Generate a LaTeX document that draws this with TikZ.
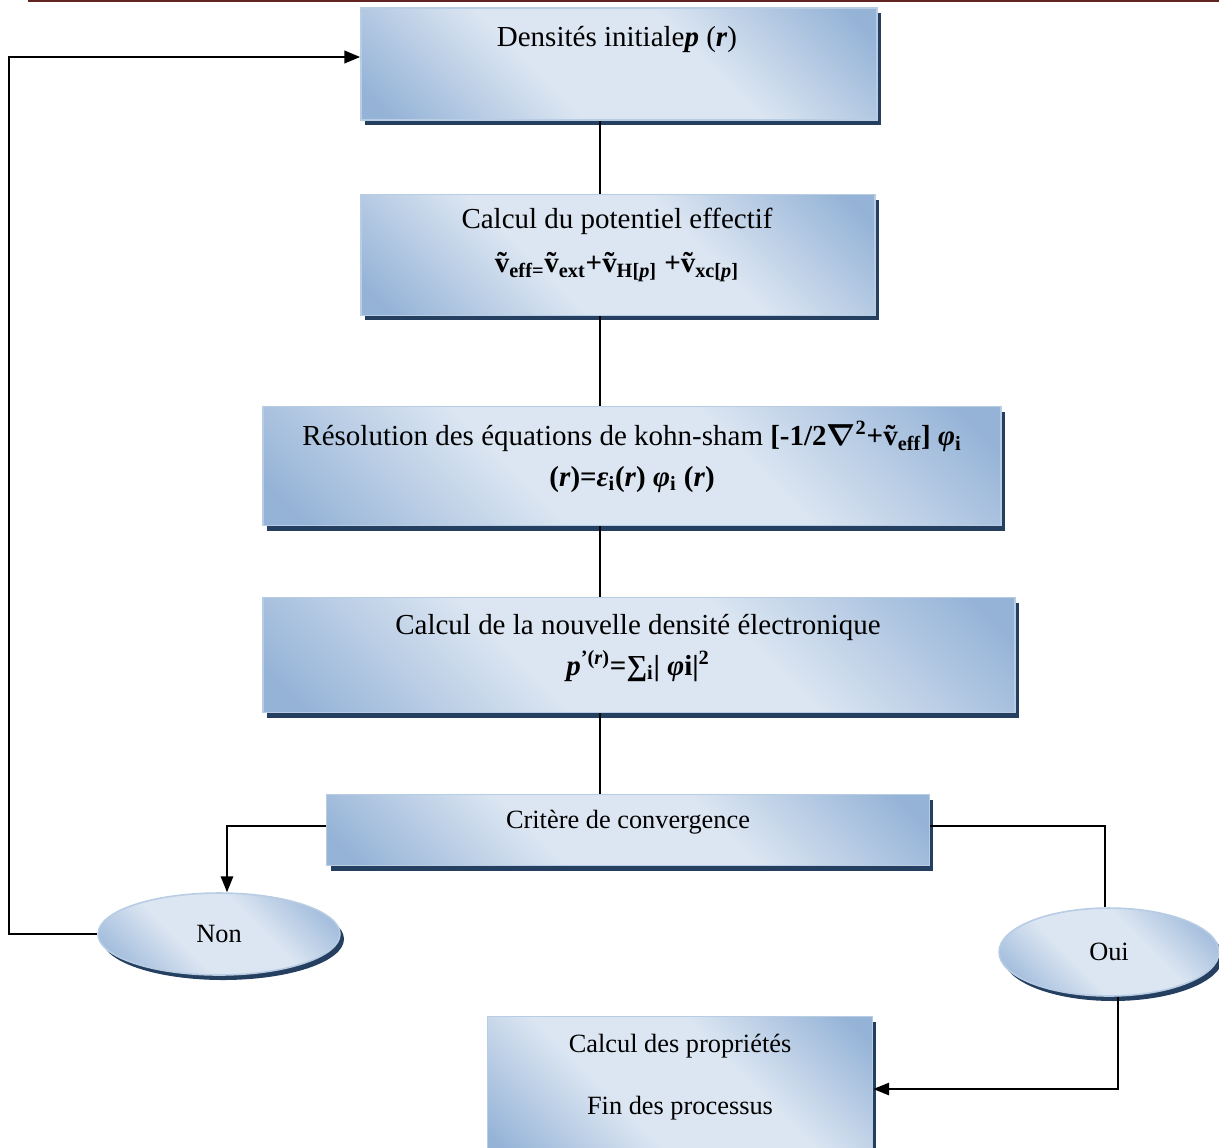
\documentclass[tikz,border=0pt]{standalone}
\usepackage{fontspec}
\setmainfont{Liberation Serif}
\usetikzlibrary{shapes.geometric,shadows,arrows.meta}
\definecolor{bdark}{HTML}{95B3D7}
\definecolor{blight}{HTML}{DCE6F2}
\definecolor{bline}{HTML}{B8CCE4}
\definecolor{bshad}{HTML}{243F60}
\definecolor{hdr}{HTML}{622423}
\pgfdeclarehorizontalshading{boxfill}{100bp}{color(0bp)=(bdark); color(18bp)=(bdark); color(40bp)=(blight); color(60bp)=(blight); color(82bp)=(bdark); color(100bp)=(bdark)}
\begin{document}
\begin{tikzpicture}[x=0.02cm,y=-0.02cm,
  look/.style={draw=bline,line width=0.9pt,shading=boxfill,shading angle=45,
    general shadow={fill=bshad,shadow xshift=0.08cm,shadow yshift=-0.1cm}},
  stepbox/.style={rectangle,look},
  choice/.style={ellipse,look,inner sep=0pt,font=\fontsize{15}{18}\selectfont},
  txt/.style={align=center,font=\fontsize{16.5}{23}\selectfont},
  smalltxt/.style={align=center,font=\fontsize{15}{35}\selectfont},
  link/.style={line width=1pt},
  arr/.style={link,-{Triangle[length=9pt,width=7pt]}}]
\clip (0,0) rectangle (1219,1147);
\draw[hdr,line width=1.2pt] (28,1) -- (1219,1);
\coordinate (spine) at (600,0);
\coordinate (loop) at (9,0);
\node[stepbox,minimum width=10.32cm,minimum height=2.24cm] (init) at (619,64) {};
\node[stepbox,minimum width=10.28cm,minimum height=2.42cm] (pot) at (618,255) {};
\node[stepbox,minimum width=14.76cm,minimum height=2.38cm] (ks) at (632,466) {};
\node[stepbox,minimum width=15.04cm,minimum height=2.30cm] (dens) at (639,655) {};
\node[stepbox,minimum width=12.06cm,minimum height=1.42cm] (crit) at (628,830) {};
\node[stepbox,minimum width=7.70cm,minimum height=2.90cm] (props) at (680,1089) {};
\node[choice,minimum width=4.84cm,minimum height=1.64cm] (non) at (219,934) {Non};
\node[choice,minimum width=4.40cm,minimum height=1.76cm] (oui) at (1109,952) {Oui};
\node[txt] (tinit) at (617,40) {Densités initiale\textbf{\textit{p}} (\textbf{\textit{r}})};
\node[txt,font=\fontsize{16.5}{25}\selectfont] (tpot) at (617,245) {Calcul du potentiel effectif\\
  \textbf{ṽ\textsubscript{eff=}ṽ\textsubscript{ext}+ṽ\textsubscript{H[\textit{p}]} +ṽ\textsubscript{xc[\textit{p}]}}};
\node[txt] (tks) at (632,457) {Résolution des équations de kohn-sham \textbf{[-1/2{\boldmath$\nabla$}\textsuperscript{2}+ṽ\textsubscript{eff}] \textit{φ}\textsubscript{i}}\\
  \textbf{(\textit{r})=\textit{ε}\textsubscript{i}(\textit{r}) \textit{φ}\textsubscript{i} (\textit{r})}};
\node[txt] (tdens) at (638,648) {Calcul de la nouvelle densité électronique\\
  \textbf{\textit{p}\textsuperscript{'(\textit{r})}=∑\textsubscript{i}| \textit{φ}i|\textsuperscript{2}}};
\node[smalltxt] (tcrit) at (628,822) {Critère de convergence};
\node[smalltxt] (tprops) at (680,1077) {Calcul des propriétés\\ Fin des processus};
\coordinate (inarr) at ([yshift=0.14cm]init.west);
\coordinate (noout) at ([yshift=0.08cm]crit.west);
\coordinate (yesout) at ([yshift=0.08cm]crit.east);
\draw[link] (init.south -| spine) -- (pot.north -| spine);
\draw[link] (pot.south -| spine) -- (ks.north -| spine);
\draw[link] (ks.south -| spine) -- (dens.north -| spine);
\draw[link] (dens.south -| spine) -- (crit.north -| spine);
\draw[arr] (noout) -| ([xshift=0.16cm]non.north);
\draw[arr,line width=1.5pt] (non.west) -- (non.west -| loop) |- (inarr);
\draw[link] (yesout) -| ([xshift=-0.08cm]oui.north);
\draw[arr] ([xshift=0.18cm]oui.south) |- (props.east);
\end{tikzpicture}
\end{document}
